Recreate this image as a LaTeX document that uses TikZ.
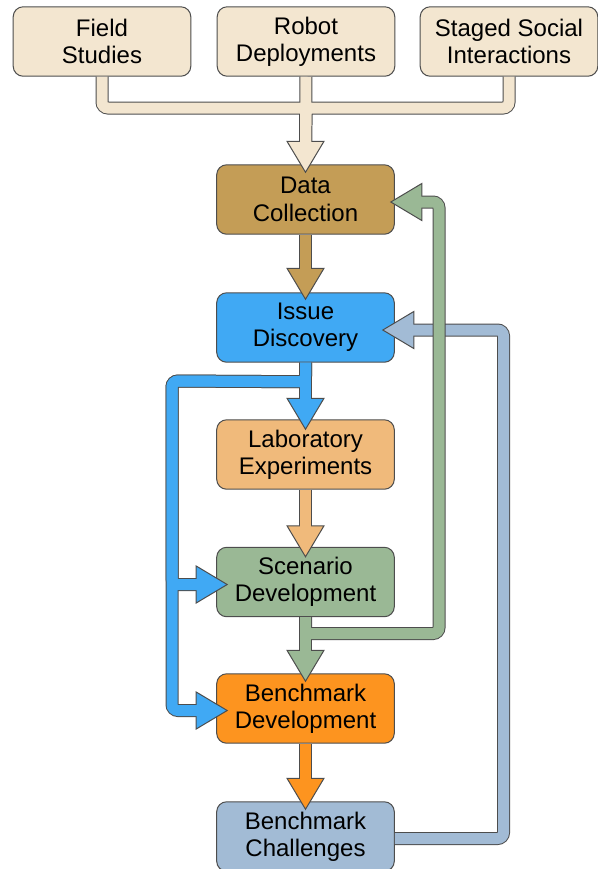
\documentclass[tikz,border=0pt]{standalone}
\usepackage{fontspec}
\setmainfont{Liberation Sans}
\usetikzlibrary{calc}
\definecolor{bordc}{HTML}{4D4D4D}
\definecolor{beige}{HTML}{F3E6D0}
\definecolor{dcol}{HTML}{C49D56}
\definecolor{icol}{HTML}{40A9F4}
\definecolor{lcol}{HTML}{F0BA7B}
\definecolor{scol}{HTML}{9AB895}
\definecolor{bdcol}{HTML}{FD941F}
\definecolor{bccol}{HTML}{A2BBD5}
\newcommand\headD[2]{\filldraw[fill=#2,draw=bordc,line width=0.75pt,line join=miter] (#1) -- ++(-18.5,-31) -- ++(37,0) -- cycle;}
\newcommand\headL[2]{\filldraw[fill=#2,draw=bordc,line width=0.75pt,line join=miter] (#1) -- ++(31,-18.5) -- ++(0,37) -- cycle;}
\newcommand\headR[2]{\filldraw[fill=#2,draw=bordc,line width=0.75pt,line join=miter] (#1) -- ++(-31,-18.5) -- ++(0,37) -- cycle;}
\begin{document}
\begin{tikzpicture}[x=0.75pt,y=-0.75pt]
\useasboundingbox (0,0) rectangle (598,869);
\tikzset{
 box/.style={rectangle, rounded corners=7.5pt, draw=bordc, line width=0.75pt,
   minimum width=133.2pt, minimum height=52.1pt, inner sep=0pt, align=center,
   font=\fontsize{18}{20.5}\selectfont},
 shaftout/.style={draw=bordc, line width=9.75pt, rounded corners=4.5pt},
 shaftin/.style={draw=#1, line width=8.25pt, rounded corners=4.5pt},
}
% boxes
\node[box, fill=beige] (field) at (102,41.5) {Field\\Studies};
\node[box, fill=beige] (robot) at (306,41.5) {Robot\\Deployments};
\node[box, fill=beige] (staged) at (509,41.5) {Staged Social\\Interactions};
\node[box, fill=dcol] (dc) at (305.5,199.5) {Data\\Collection};
\node[box, fill=icol] (issue) at (305.5,327.5) {Issue\\Discovery};
\node[box, fill=lcol] (lab) at (305.5,454.5) {Laboratory\\Experiments};
\node[box, fill=scol] (scen) at (305.5,582) {Scenario\\Development};
\node[box, fill=bdcol] (bdev) at (305.5,708.5) {Benchmark\\Development};
\node[box, fill=bccol] (bch) at (305.5,836.5) {Benchmark\\Challenges};

% tip coordinates
\coordinate (tDC) at ($(dc.north)+(0,8)$);
\coordinate (bDC) at ($(tDC)+(0,-31)$);
\coordinate (fDC) at ($(tDC)+(0,-29)$);
\coordinate (bar) at (306,108);

\coordinate (tIs) at ($(issue.north)+(0,7)$);
\coordinate (bIs) at ($(tIs)+(0,-31)$);
\coordinate (fIs) at ($(tIs)+(0,-29)$);

\coordinate (tLab) at ($(lab.north)+(0,10)$);
\coordinate (bLab) at ($(tLab)+(0,-31)$);
\coordinate (fLab) at ($(tLab)+(0,-29)$);
\coordinate (bj) at ($(issue.south)+(0,19)$);
\coordinate (bl) at (172,381);
\coordinate (tScL) at ($(scen.west)+(11,2.5)$);
\coordinate (bScL) at ($(tScL)+(-31,0)$);
\coordinate (fScL) at ($(tScL)+(-29,0)$);
\coordinate (tBdL) at ($(bdev.west)+(11,2)$);
\coordinate (bBdL) at ($(tBdL)+(-31,0)$);
\coordinate (fBdL) at ($(tBdL)+(-29,0)$);

\coordinate (tSc) at ($(scen.north)+(0,10)$);
\coordinate (bSc) at ($(tSc)+(0,-31)$);
\coordinate (fSc) at ($(tSc)+(0,-29)$);

\coordinate (tIsR) at ($(issue.east)+(-12,2.5)$);
\coordinate (bIsR) at ($(tIsR)+(31,0)$);
\coordinate (fIsR) at ($(tIsR)+(29,0)$);
\coordinate (bcs) at ($(bch.east)+(0,2)$);
\coordinate (lr) at (503.5,838.5);

\coordinate (tBd) at ($(bdev.north)+(0,8)$);
\coordinate (bBd) at ($(tBd)+(0,-31)$);
\coordinate (fBd) at ($(tBd)+(0,-29)$);
\coordinate (gj) at ($(scen.south)+(0,16.5)$);
\coordinate (gr) at (439,633.5);
\coordinate (tDCR) at ($(dc.east)+(-4,2.5)$);
\coordinate (bDCR) at ($(tDCR)+(31,0)$);
\coordinate (fDCR) at ($(tDCR)+(29,0)$);

\coordinate (tBc) at ($(bch.north)+(0,8)$);
\coordinate (bBc) at ($(tBc)+(0,-31)$);
\coordinate (fBc) at ($(tBc)+(0,-29)$);

% beige merge arrow
\draw[shaftout] (field.south) |- (bar) -- (bDC);
\draw[shaftout] (staged.south) |- (bar) -- (bDC);
\draw[shaftout] (robot.south) -- (bDC);
\headD{tDC}{beige}
\draw[shaftin=beige] (field.south) |- (bar) -- (fDC);
\draw[shaftin=beige] (staged.south) |- (bar) -- (fDC);
\draw[shaftin=beige] (robot.south) -- (fDC);

% data collection -> issue discovery
\draw[shaftout] (dc.south) -- (bIs);
\headD{tIs}{dcol}
\draw[shaftin=dcol] (dc.south) -- (fIs);

% issue discovery arrows
\draw[shaftout] (issue.south) -- (bLab);
\draw[shaftout] (issue.south) -- (bj) -- (bl) |- (bScL);
\draw[shaftout] (issue.south) -- (bj) -- (bl) |- (bBdL);
\headD{tLab}{icol}
\headR{tScL}{icol}
\headR{tBdL}{icol}
\draw[shaftin=icol] (issue.south) -- (fLab);
\draw[shaftin=icol] (issue.south) -- (bj) -- (bl) |- (fScL);
\draw[shaftin=icol] (issue.south) -- (bj) -- (bl) |- (fBdL);

% lab -> scenario
\draw[shaftout] (lab.south) -- (bSc);
\headD{tSc}{lcol}
\draw[shaftin=lcol] (lab.south) -- (fSc);

% benchmark challenges -> issue discovery
\draw[shaftout] (bcs) -- (lr) |- (bIsR);
\headL{tIsR}{bccol}
\draw[shaftin=bccol] (bcs) -- (lr) |- (fIsR);

% scenario arrows
\draw[shaftout] (scen.south) -- (bBd);
\draw[shaftout] (scen.south) -- (gj) -- (gr) |- (bDCR);
\headD{tBd}{scol}
\headL{tDCR}{scol}
\draw[shaftin=scol] (scen.south) -- (fBd);
\draw[shaftin=scol] (scen.south) -- (gj) -- (gr) |- (fDCR);

% benchmark development -> challenges
\draw[shaftout] (bdev.south) -- (bBc);
\headD{tBc}{bdcol}
\draw[shaftin=bdcol] (bdev.south) -- (fBc);
\end{tikzpicture}
\end{document}
